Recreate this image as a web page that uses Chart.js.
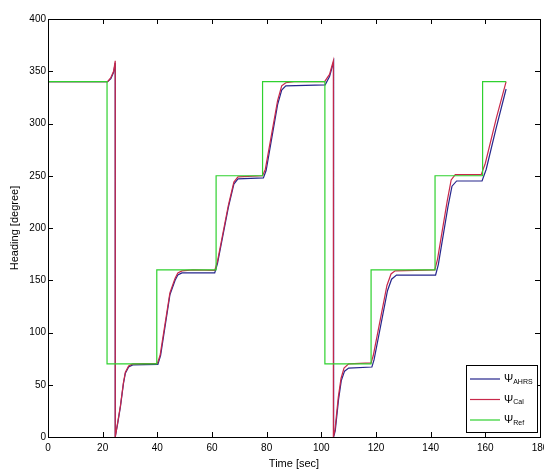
<!DOCTYPE html>
<html>
<head>
<meta charset="utf-8">
<script src="https://cdn.jsdelivr.net/npm/chart.js@4.4.1/dist/chart.umd.min.js"></script>
<style>
  html, body { margin: 0; padding: 0; background: #fff; }
</style>
</head>
<body>
<canvas id="chart" width="544" height="471"></canvas>
<script>
// reference heading (square steps)
const refTime = [0, 21.6, 21.6, 39.8, 39.8, 61.5, 61.5, 78.5, 78.5, 101.3, 101.3, 118.2, 118.2, 141.6, 141.6, 159, 159, 167.6];
const refHeading = [340, 340, 70, 70, 160, 160, 250, 250, 340, 340, 70, 70, 160, 160, 250, 250, 340, 340];

// calculated heading
const calTime = [0, 10, 21.8, 23, 24, 24.6, 24.6, 25.5, 26.5, 27.6, 28.3, 29.5, 31, 40, 41, 44.6, 46.5, 47.5, 49, 53,
  61, 62, 66, 68, 69.5, 78.5, 79.5, 84, 85.5, 87, 90, 101.2, 103, 104.4, 104.4, 105, 106.2, 107.2, 108.3, 110,
  118.2, 119, 124, 125.5, 127, 141.5, 142.5, 146, 147.5, 149, 158.5, 160, 164, 167.6];
const calHeading = [340, 340, 340, 344, 350, 360, 0, 14, 30, 52, 62, 68, 70, 70.5, 78, 138, 152, 157, 159, 160,
  159.5, 168, 222, 244, 249, 250, 256, 322, 336, 339, 340, 340, 347, 360, 0, 7, 38, 56, 66, 70,
  71, 78, 145, 156, 159, 160, 170, 225, 246, 251, 251, 262, 305, 340];

// AHRS heading
const ahrsTime = [0, 21.8, 23, 24, 24.6, 24.6, 25.5, 26.5, 27.6, 28.3, 29.5, 31, 40.2, 41.2, 44.6, 46.5, 47.5, 49,
  61, 62, 66, 68, 69.5, 78.8, 79.8, 84, 85.5, 87, 101.4, 103, 104.5, 104.5, 105.1, 106.3, 107.3, 108.5, 110,
  118.5, 119.3, 124.2, 125.7, 127.5, 141.8, 142.8, 146.3, 147.8, 149.5, 158.8, 160.3, 164, 167.6];
const ahrsHeading = [340, 340, 343, 349, 358, 0, 13, 29, 51, 61, 67, 69, 69.5, 78, 136, 150, 155, 157,
  157, 166, 220, 242, 247, 248, 255, 318, 332, 336, 337, 345, 359, 0, 6, 36, 54, 63, 66,
  67, 74, 140, 151, 155, 155, 165, 220, 240, 245, 245, 256, 296, 333];

const xTicks = [0, 20, 40, 60, 80, 100, 120, 140, 160, 180];
const yTicks = [0, 50, 100, 150, 200, 250, 300, 350, 400];

const seriesSubs = ["AHRS", "Cal", "Ref"];
const seriesColors = ["#26268c", "#c8284a", "#2fd12f"];

const toPoints = (xs, ys) => xs.map((x, i) => ({ x, y: ys[i] }));

const frameTicks = {
  id: "frameTicks",
  afterDatasetsDraw(chart) {
    const { ctx, chartArea, scales } = chart;
    const { left, right, top, bottom } = chartArea;
    ctx.save();
    ctx.strokeStyle = "#000";
    ctx.lineWidth = 1;
    ctx.strokeRect(left + 0.5, top + 0.5, right - left, bottom - top);
    ctx.beginPath();
    xTicks.forEach((v) => {
      const px = Math.round(scales.x.getPixelForValue(v)) + 0.5;
      ctx.moveTo(px, bottom); ctx.lineTo(px, bottom - 5);
      ctx.moveTo(px, top); ctx.lineTo(px, top + 5);
    });
    yTicks.forEach((v) => {
      const py = Math.round(scales.y.getPixelForValue(v)) + 0.5;
      ctx.moveTo(left, py); ctx.lineTo(left + 5, py);
      ctx.moveTo(right, py); ctx.lineTo(right - 5, py);
    });
    ctx.stroke();
    ctx.restore();
  },
};

const psiLegend = {
  id: "psiLegend",
  afterDraw(chart) {
    const { ctx, chartArea } = chart;
    const bx = chartArea.right - 74, by = chartArea.bottom - 72;
    const bw = 71, bh = 67;
    ctx.save();
    ctx.fillStyle = "#fff";
    ctx.fillRect(bx, by, bw, bh);
    ctx.strokeStyle = "#000";
    ctx.lineWidth = 1;
    ctx.strokeRect(bx + 0.5, by + 0.5, bw, bh);
    seriesSubs.forEach((sub, i) => {
      const y = by + 14 + i * 20.5;
      ctx.strokeStyle = seriesColors[i];
      ctx.lineWidth = 1.2;
      ctx.beginPath();
      ctx.moveTo(bx + 4, y); ctx.lineTo(bx + 34, y);
      ctx.stroke();
      ctx.fillStyle = "#000";
      ctx.textBaseline = "middle";
      ctx.font = "11px 'Liberation Sans', Arial, sans-serif";
      ctx.fillText("Ψ", bx + 38, y);
      const w = ctx.measureText("Ψ").width;
      ctx.font = "7px 'Liberation Sans', Arial, sans-serif";
      ctx.fillText(sub, bx + 38 + w, y + 3);
    });
    ctx.restore();
  },
};

const tickFont = { family: "'Liberation Sans', Arial, sans-serif", size: 10 };

new Chart(document.getElementById("chart"), {
  type: "line",
  data: {
    datasets: [
      { label: "AHRS", data: toPoints(ahrsTime, ahrsHeading), borderColor: seriesColors[0], order: 2 },
      { label: "Cal", data: toPoints(calTime, calHeading), borderColor: seriesColors[1], order: 1 },
      { label: "Ref", data: toPoints(refTime, refHeading), borderColor: seriesColors[2], order: 0 },
    ],
  },
  options: {
    responsive: false,
    animation: false,
    events: [],
    elements: {
      line: { borderWidth: 1.2, tension: 0, fill: false },
      point: { radius: 0 },
    },
    layout: { padding: { top: 19, right: 4, left: 0, bottom: 0 } },
    plugins: { legend: { display: false }, tooltip: { enabled: false } },
    scales: {
      x: {
        type: "linear",
        min: 0,
        max: 180,
        afterBuildTicks: (s) => { s.ticks = xTicks.map((value) => ({ value })); },
        afterFit: (s) => { s.height = 34; s.paddingLeft = 0; s.paddingRight = 0; },
        ticks: { color: "#000", font: tickFont, padding: 5, maxRotation: 0 },
        grid: { display: false, drawTicks: false },
        border: { display: false },
        title: { display: true, text: "Time [sec]", color: "#000", font: { ...tickFont, size: 11 }, padding: { top: 0, bottom: 0 } },
      },
      y: {
        type: "linear",
        min: 0,
        max: 400,
        afterBuildTicks: (s) => { s.ticks = yTicks.map((value) => ({ value })); },
        afterFit: (s) => { s.width = 48; },
        ticks: { color: "#000", font: tickFont, padding: 2 },
        grid: { display: false, drawTicks: false },
        border: { display: false },
        title: { display: true, text: "Heading [degree]", color: "#000", font: { ...tickFont, size: 11 }, padding: { top: 8, bottom: 0 } },
      },
    },
  },
  plugins: [frameTicks, psiLegend],
});
</script>
</body>
</html>
